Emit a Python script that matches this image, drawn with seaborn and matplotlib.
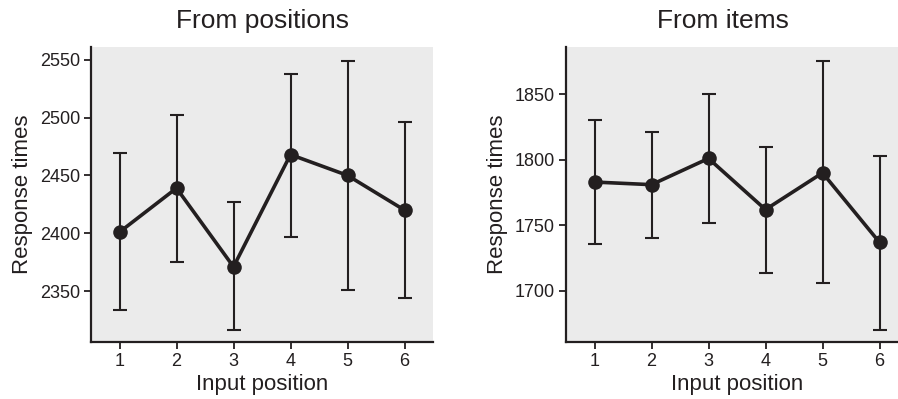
import matplotlib
matplotlib.use("Agg")
import matplotlib.pyplot as plt
import seaborn as sns
import pandas as pd

positions = [1, 2, 3, 4, 5, 6]

pos_means = [2401, 2439, 2371, 2468, 2450, 2420]
pos_low = [2334, 2375, 2316, 2397, 2351, 2344]
pos_high = [2469, 2502, 2427, 2538, 2549, 2496]

item_means = [1783, 1781, 1801, 1762, 1790, 1737]
item_low = [1736, 1740, 1752, 1714, 1706, 1670]
item_high = [1830, 1821, 1850, 1810, 1875, 1803]

titles = ["From positions", "From items"]
xlabel = "Input position"
ylabel = "Response times"

sns.set_theme(style="ticks")
plt.rcParams["font.family"] = ["Liberation Sans", "DejaVu Sans"]

ink = "#231f20"
bg = "#ebebeb"

fig = plt.figure(figsize=(8.98, 3.99), dpi=100)
ax1 = fig.add_axes([91 / 898, 1 - 342 / 399, 342 / 898, 295 / 399])
ax2 = fig.add_axes([566 / 898, 1 - 342 / 399, 342 / 898, 295 / 399])

panels = [
    (ax1, pos_means, pos_low, pos_high, (2306, 2561), [2350, 2400, 2450, 2500, 2550], 262),
    (ax2, item_means, item_low, item_high, (1661, 1886), [1700, 1750, 1800, 1850], 723),
]

for (ax, means, low, high, ylim, yticks, tx), title in zip(panels, titles):
    df = pd.DataFrame({"pos": positions, "rt": means})
    ax.set_facecolor(bg)
    yerr = [[m - l for m, l in zip(means, low)], [h - m for m, h in zip(means, high)]]
    ax.errorbar(positions, means, yerr=yerr, fmt="none", ecolor=ink,
                elinewidth=1.5, capsize=5, capthick=1.5, zorder=2)
    sns.lineplot(data=df, x="pos", y="rt", ax=ax, color=ink, linewidth=2.6,
                 marker="o", markersize=10.5, markeredgewidth=0, zorder=3)
    ax.set_xlim(0.5, 6.5)
    ax.set_ylim(*ylim)
    ax.set_xticks(positions)
    ax.set_xticklabels([str(p) for p in positions])
    ax.set_yticks(yticks)
    ax.set_xlabel(xlabel, fontsize=16, color=ink, labelpad=3)
    ax.set_ylabel(ylabel, fontsize=16, color=ink, labelpad=5)
    ax.tick_params(axis="both", labelsize=13, colors=ink, length=5, width=1.3, pad=3)
    for s in ["top", "right"]:
        ax.spines[s].set_visible(False)
    for s in ["left", "bottom"]:
        ax.spines[s].set_color(ink)
        ax.spines[s].set_linewidth(1.6)
    fig.text(tx / 898, 1 - 21 / 399, title, ha="center", va="center",
             fontsize=19, color=ink)

fig.savefig("out.png", dpi=100)
